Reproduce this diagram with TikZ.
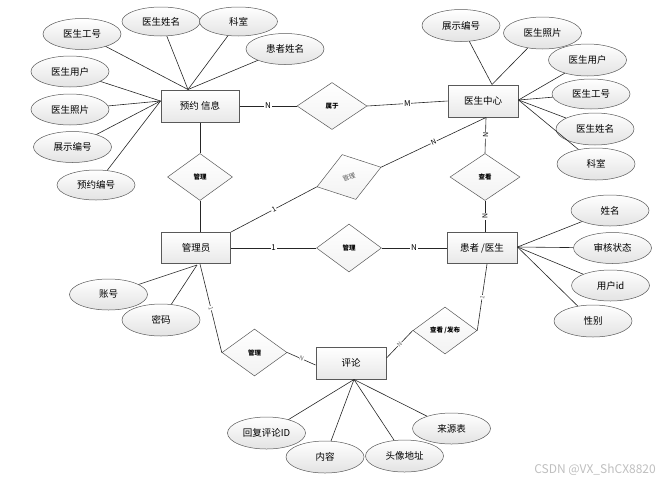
\documentclass[tikz,border=0pt]{standalone}
\usepackage{fontspec}
\setmainfont{Noto Sans CJK SC}
\usetikzlibrary{shapes.geometric,calc}
\begin{document}
\begin{tikzpicture}[x=1pt,y=-1pt,
  attr/.style={ellipse, draw=gray!70!black, line width=0.5pt, top color=white, bottom color=gray!22,
    minimum width=78pt, minimum height=31pt, inner sep=0pt, font=\fontsize{9.5}{11}\selectfont},
  ent/.style={rectangle, draw=gray!70!black, line width=1pt, top color=white, bottom color=gray!18,
    minimum width=70pt, minimum height=32pt, inner sep=0pt, font=\fontsize{9.5}{11}\selectfont},
  rel/.style={diamond, draw=gray!70!black, line width=0.5pt, top color=white, bottom color=gray!10,
    minimum width=66pt, minimum height=47pt, inner sep=0pt, font=\fontsize{6.5}{8}\selectfont\bfseries},
  conn/.style={draw=black!85, line width=0.6pt},
  lab/.style={font=\fontsize{8}{9}\selectfont, fill=white, inner sep=0.8pt},
  slab/.style={font=\fontsize{6}{7}\selectfont, text=gray!80!black, fill=white, inner sep=0.5pt, sloped}
]
\useasboundingbox (0,0) rectangle (668,485);

% entities
\node[ent, minimum width=78pt] (yy) at (200,106) {预约 信息};
\node[ent] (ys) at (483,101) {医生中心};
\node[ent, minimum width=69pt, minimum height=31pt] (gly) at (196,248) {管理员};
\node[ent, minimum height=31pt] (hz) at (482,248) {患者 /医生};
\node[ent] (pl) at (351,363) {评论};

% relations
\node[rel, minimum width=70pt] (r1) at (332,106) {属于};
\node[rel, minimum width=65pt] (r2) at (200,177) {管理};
\node[rel, minimum width=67pt, rotate=17, text=gray!70!black, font=\fontsize{6.5}{8}\selectfont] (r3) at (349,177) {管理};
\node[rel, minimum width=70pt] (r4) at (485,177) {查看};
\node[rel, minimum width=65pt, minimum height=48pt] (r5) at (349,248) {管理};
\node[rel, minimum width=65pt] (r6) at (254.5,352.5) {管理};
\node[rel, minimum width=64pt] (r7) at (445,330.5) {查看 /发布};

% attributes of 预约信息
\node[attr] (a1) at (82,34) {医生工号};
\node[attr, minimum height=29pt] (a2) at (161,21.5) {医生姓名};
\node[attr, minimum height=29pt] (a3) at (238.5,21.5) {科室};
\node[attr] (a4) at (285,49) {患者姓名};
\node[attr] (a5) at (70,71.5) {医生用户};
\node[attr] (a6) at (70,109.5) {医生照片};
\node[attr] (a7) at (72.5,147) {展示编号};
\node[attr, minimum height=30pt] (a8) at (96,185) {预约编号};
\coordinate (yyT) at ($(yy.north)+(-12,0)$);
\coordinate (yyL) at ($(yy.west)+(0,-5)$);
\foreach \a in {a1,a2,a3,a4} \draw[conn] (\a) -- (yyT);
\foreach \a in {a5,a6,a7,a8} \draw[conn] (\a) -- (yyL);

% attributes of 医生中心
\node[attr, minimum height=32pt] (b1) at (461,25.5) {展示编号};
\node[attr, minimum height=32pt] (b2) at (542.5,33) {医生照片};
\node[attr, minimum height=32pt] (b3) at (587.5,60) {医生用户};
\node[attr, minimum height=30pt] (b4) at (591,94) {医生工号};
\node[attr, minimum height=32pt] (b5) at (595,129) {医生姓名};
\node[attr, minimum height=32pt] (b6) at (596,164) {科室};
\coordinate (ysT) at ($(ys.north)+(9,0)$);
\coordinate (ysR) at ($(ys.east)+(0,-1)$);
\foreach \a in {b1,b2} \draw[conn] (\a) -- (ysT);
\foreach \a in {b3,b4,b5,b6} \draw[conn] (\a) -- (ysR);

% attributes of 患者/医生
\node[attr] (c1) at (610,210.5) {姓名};
\node[attr] (c2) at (612.5,248) {审核状态};
\node[attr] (c3) at (610.5,285.5) {用户id};
\node[attr, minimum height=32pt] (c4) at (593,321) {性别};
\coordinate (hzR) at ($(hz.east)+(0,-1)$);
\foreach \a in {c1,c2,c3,c4} \draw[conn] (\a) -- (hzR);

% attributes of 管理员
\node[attr] (d1) at (108.5,294.5) {账号};
\node[attr, minimum height=32pt] (d2) at (161,320) {密码};
\coordinate (glyB) at ($(gly.south)+(1,1)$);
\foreach \a in {d1,d2} \draw[conn] (\a) -- (glyB);

% attributes of 评论
\node[attr, minimum height=32pt] (e1) at (266.5,433) {回复评论ID};
\node[attr, minimum height=32pt] (e2) at (325,457) {内容};
\node[attr, minimum height=32pt] (e3) at (404.5,456) {头像地址};
\node[attr] (e4) at (451.5,428.5) {来源表};
\coordinate (plB) at ($(pl.south)+(3,0)$);
\foreach \a in {e1,e2,e3,e4} \draw[conn] (\a) -- (plB);

% relationship connectors
\draw[conn] (yy.east) -- node[lab]{N} (r1.west);
\draw[conn] (r1.east) -- node[lab]{M} (ys.west);

\coordinate (glyT) at ($(gly.north)+(4,0)$);
\draw[conn] (yy.south) -- (r2.north);
\draw[conn] (r2.south) -- (glyT);

\coordinate (ysB) at ($(ys.south)+(3,0)$);
\draw[conn] (gly.north east) -- node[lab, sloped, font=\fontsize{7}{8}\selectfont]{1} (r3.west);
\draw[conn] (r3.east) -- node[lab, sloped, font=\fontsize{7}{8}\selectfont]{N} (ysB);

\draw[conn] (ysB) -- node[lab, sloped, font=\fontsize{7}{8}\selectfont]{N} (r4.north);
\coordinate (hzT) at ($(hz.north)+(3,0)$);
\draw[conn] (r4.south) -- node[lab, sloped, font=\fontsize{7}{8}\selectfont]{N} (hzT);

\draw[conn] (gly.east) -- node[lab]{1} (r5.west);
\draw[conn] (r5.east) -- node[lab]{N} (hz.west);

\coordinate (glyB2) at ($(gly.south)+(4,0)$);
\draw[conn] (glyB2) -- node[slab]{1} (r6.west);
\draw[conn] (r6.east) -- node[slab]{N} ($(pl.west)+(0,2)$);

\draw[conn] ($(pl.east)+(0,-5)$) -- node[slab]{N} (r7.west);
\coordinate (hzB) at ($(hz.south)+(5,0)$);
\draw[conn] (r7.east) -- node[slab]{1} (hzB);

% watermark
\node[font=\fontsize{12}{13}\selectfont, text=gray!50] (wm) at (595,470) {CSDN @VX\_ShCX8820};
\end{tikzpicture}
\end{document}
